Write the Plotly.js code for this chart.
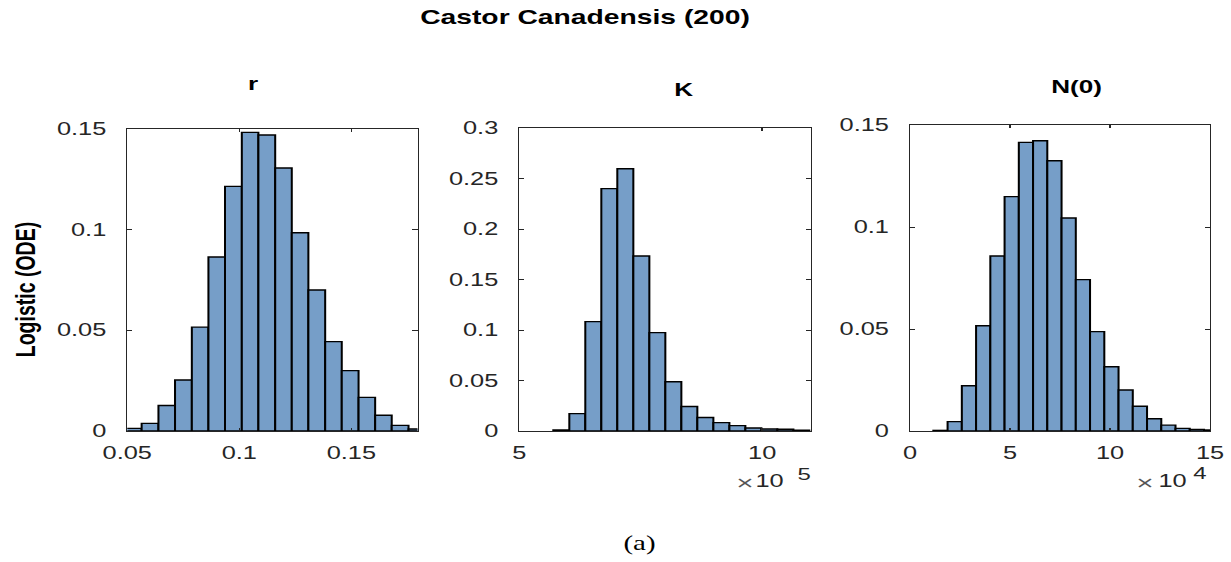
<!DOCTYPE html>
<html>
<head>
<meta charset="utf-8">
<script src="https://cdn.plot.ly/plotly-3.0.1.min.js"></script>
<style>
  html, body { margin: 0; padding: 0; background: #ffffff; overflow: hidden; }
  #frame { width: 1231px; height: 562px; overflow: hidden; position: relative; }
  /* figure is laid out narrow and widened horizontally, like the exported figure */
  #chart { position: absolute; left: 0; top: 0; transform-origin: 0 0; }
</style>
</head>
<body>
<div id="frame"><div id="chart"></div></div>
<script>
// Posterior samples of the logistic (ODE) model parameters, Castor canadensis (200)
// Histogram bin edges and probability per bin.

// growth rate r
const rEdges = [0.0490, 0.0564, 0.0639, 0.0713, 0.0788, 0.0862, 0.0936, 0.1011, 0.1085, 0.1160,
                0.1234, 0.1308, 0.1383, 0.1457, 0.1532, 0.1606, 0.1680, 0.1755, 0.1829];
const rProb  = [0.0013, 0.0038, 0.0127, 0.0253, 0.0516, 0.0864, 0.1215, 0.1483, 0.1470,
                0.1306, 0.0985, 0.0700, 0.0444, 0.0300, 0.0167, 0.0078, 0.0028, 0.0010];

// carrying capacity K
const kEdges = [570000, 603000, 635900, 668900, 701800, 734800, 767800, 800700, 833700,
                866600, 899600, 932600, 965500, 998500, 1031400, 1064400, 1097400];
const kProb  = [0.0010, 0.0172, 0.1083, 0.2400, 0.2596, 0.1732, 0.0974, 0.0487,
                0.0242, 0.0133, 0.0083, 0.0053, 0.0030, 0.0020, 0.0017, 0.0007];

// initial population N(0)
const nEdges = [11670, 18790, 25920, 33040, 40160, 47290, 54410, 61530, 68650, 75780, 82900,
                90020, 97150, 104270, 111390, 118520, 125640, 132760, 139880, 147010, 154130];
const nProb  = [0.0003, 0.0046, 0.0222, 0.0516, 0.0858, 0.1149, 0.1415, 0.1423, 0.1325, 0.1044,
                0.0742, 0.0487, 0.0315, 0.0201, 0.0121, 0.0060, 0.0029, 0.0013, 0.0008, 0.0005];

// tick labels
const rTickVals = [0.05, 0.1, 0.15];
const kTickVals = [500000, 1000000];
const kTickText = ['5', '10'];
const nTickVals = [0, 50000, 100000, 150000];
const nTickText = ['0', '5', '10', '15'];

const panelTitles = ['r', 'K', 'N(0)'];
const figTitle = 'Castor Canadensis (200)';
const rowLabel = 'Logistic (ODE)';
const caption = '(a)';

// ---- page geometry ----
const FULL_W = 1231, FULL_H = 562;
const STRETCH = 1.45;
const W = Math.round(FULL_W / STRETCH);
const chart = document.getElementById('chart');
chart.style.width = W + 'px';
chart.style.height = FULL_H + 'px';
chart.style.transform = 'scaleX(' + (FULL_W / W) + ')';

const px = v => v / FULL_W;          // horizontal pixel -> paper
const py = v => 1 - v / FULL_H;      // vertical pixel -> paper

const FONT = 'Liberation Sans, Arial, Helvetica, sans-serif';
const INK = '#262626';
const BAR = '#769ec8';

function histTrace(edges, prob, xa, ya) {
  const mids = [], widths = [];
  for (let i = 0; i < prob.length; i++) {
    mids.push((edges[i] + edges[i + 1]) / 2);
    widths.push(edges[i + 1] - edges[i]);
  }
  return {
    type: 'bar', x: mids, y: prob, width: widths,
    xaxis: xa, yaxis: ya,
    marker: { color: BAR, line: { color: '#000000', width: 1.4 } },
    showlegend: false, hoverinfo: 'skip'
  };
}

const data = [
  histTrace(rEdges, rProb, 'x', 'y'),
  histTrace(kEdges, kProb, 'x2', 'y2'),
  histTrace(nEdges, nProb, 'x3', 'y3')
];

const axisBase = {
  showline: true, linecolor: INK, linewidth: 1,
  mirror: 'ticks', ticks: 'inside', tickcolor: INK, tickwidth: 1,
  showgrid: false, zeroline: false, fixedrange: true,
  tickfont: { family: FONT, size: 17.5, color: INK }
};
const xBase = Object.assign({}, axisBase, { ticklen: 3, ticklabelstandoff: 6 });
const yBase = Object.assign({}, axisBase, { ticklen: 3.5, ticklabelstandoff: 10, tick0: 0, dtick: 0.05 });

const layout = {
  width: W, height: FULL_H,
  margin: { l: 0, r: 0, t: 0, b: 0, pad: 0 },
  paper_bgcolor: '#ffffff', plot_bgcolor: '#ffffff',
  font: { family: FONT, color: INK },
  bargap: 0,
  title: {
    text: '<b>' + figTitle + '</b>',
    x: px(585), xanchor: 'center', y: py(17), yanchor: 'middle',
    xref: 'paper', yref: 'paper',
    font: { family: FONT, size: 19.5, color: '#000000' }
  },
  xaxis: Object.assign({}, xBase, {
    domain: [px(127.3), px(417.5)], range: [0.05, 0.1795],
    tickmode: 'array', tickvals: rTickVals, anchor: 'y'
  }),
  yaxis: Object.assign({}, yBase, {
    domain: [py(431), py(129)], range: [0, 0.15], anchor: 'x'
  }),
  xaxis2: Object.assign({}, xBase, {
    domain: [px(519.3), px(810.7)], range: [500000, 1100000],
    tickmode: 'array', tickvals: kTickVals, ticktext: kTickText, anchor: 'y2'
  }),
  yaxis2: Object.assign({}, yBase, {
    domain: [py(431), py(128)], range: [0, 0.3], anchor: 'x2'
  }),
  xaxis3: Object.assign({}, xBase, {
    domain: [px(910), px(1210)], range: [0, 150000],
    tickmode: 'array', tickvals: nTickVals, ticktext: nTickText, anchor: 'y3'
  }),
  yaxis3: Object.assign({}, yBase, {
    domain: [py(431), py(125)], range: [0, 0.15], anchor: 'x3'
  }),
  annotations: []
};

function note(text, x, y, opts) {
  layout.annotations.push(Object.assign({
    text: text, x: px(x), y: py(y), xref: 'paper', yref: 'paper',
    showarrow: false, xanchor: 'center', yanchor: 'middle',
    font: { family: FONT, size: 18, color: '#000000' }
  }, opts || {}));
}

// subplot titles
note('<b>' + panelTitles[0] + '</b>', 253, 84);
note('<b>' + panelTitles[1] + '</b>', 683, 90);
note('<b>' + panelTitles[2] + '</b>', 1076, 87);

// row label
note('<b>' + rowLabel + '</b>', 25, 290, { textangle: -90, font: { family: FONT, size: 19.5, color: '#000000' } });

// axis exponent labels: multiplication sign, base, raised exponent
const expFont = { family: FONT, size: 17.5, color: INK };
const timesFont = { family: 'DejaVu Sans, sans-serif', size: 16, color: '#555555' };
note('\u00d7', 745, 482, { font: timesFont, borderpad: 0 });
note('10', 786, 481, { xanchor: 'right', font: expFont, borderpad: 0 });
note('5', 796, 474, { xanchor: 'left', font: { family: FONT, size: 16.5, color: INK }, borderpad: 0 });
note('\u00d7', 1145, 482, { font: timesFont, borderpad: 0 });
note('10', 1189, 481, { xanchor: 'right', font: expFont, borderpad: 0 });
note('4', 1192, 472.5, { xanchor: 'left', font: { family: FONT, size: 16.5, color: INK }, borderpad: 0 });

// panel caption
note(caption, 639, 543, { font: { family: 'Liberation Serif, Times New Roman, serif', size: 20, color: '#000000' } });

Plotly.newPlot(chart, data, layout, { displayModeBar: false, staticPlot: true });
</script>
</body>
</html>
